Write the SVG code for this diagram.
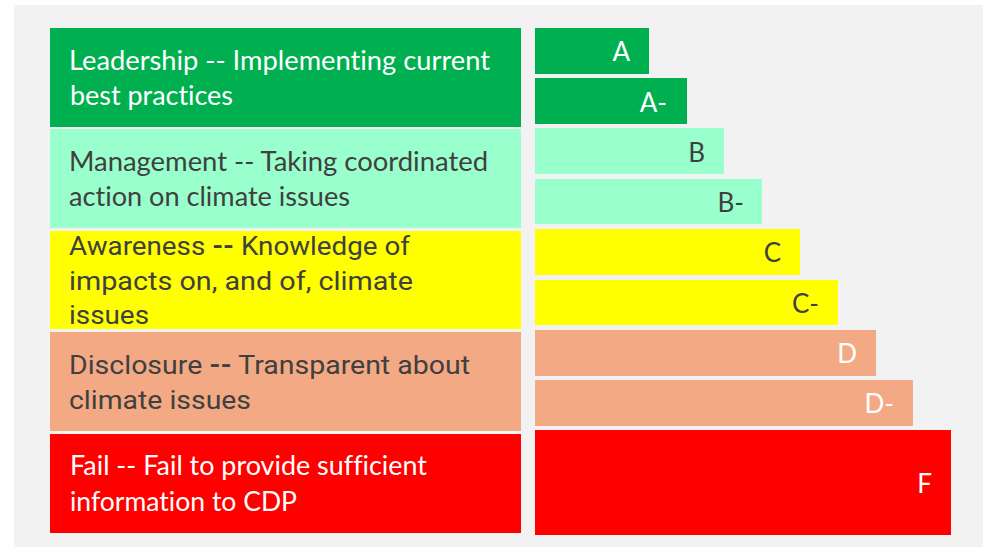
<svg xmlns="http://www.w3.org/2000/svg" width="992" height="547" viewBox="0 0 992 547">
  <style>
    text { font-variant-ligatures: none; }
    .t { font-family: Lato, "Liberation Sans", sans-serif; font-size: 26px; }
    .a { font-family: Roboto, "Liberation Sans", sans-serif; font-size: 25.5px; }
    .w { fill: #FFFFFF; }
    .g { fill: #404040; }
    .lbl { font-family: Lato, "Liberation Sans", sans-serif; font-size: 26px; text-anchor: end; }
    .green { fill: #00B050; }
    .mint { fill: #99FFCC; }
    .yellow { fill: #FFFF00; }
    .salmon { fill: #F3AA84; }
    .red { fill: #FF0000; }
  </style>
  <rect x="0" y="0" width="992" height="547" fill="#FFFFFF"/>
  <rect id="background" x="14" y="5" width="969" height="542" fill="#F2F2F2"/>

  <g id="level-leadership">
    <rect class="green" x="50" y="28" width="471" height="99"/>
    <text class="t w" x="69" y="70" textLength="421" lengthAdjust="spacingAndGlyphs">Leadership -- Implementing current</text>
    <text class="t w" x="70" y="105" textLength="163" lengthAdjust="spacingAndGlyphs">best practices</text>
  </g>
  <g id="level-management">
    <rect class="mint" x="50" y="129" width="471" height="99"/>
    <text class="t g" x="69" y="171" textLength="419" lengthAdjust="spacingAndGlyphs">Management -- Taking coordinated</text>
    <text class="t g" x="69" y="206" textLength="281" lengthAdjust="spacingAndGlyphs">action on climate issues</text>
  </g>
  <g id="level-awareness">
    <rect class="yellow" x="50" y="231" width="471" height="98"/>
    <text class="a g" x="69" y="255" textLength="341" lengthAdjust="spacingAndGlyphs">Awareness <tspan font-weight="bold">--</tspan> Knowledge of</text>
    <text class="a g" x="69" y="290" textLength="344" lengthAdjust="spacingAndGlyphs">impacts on, and of, climate</text>
    <text class="a g" x="69" y="324" textLength="80" lengthAdjust="spacingAndGlyphs">issues</text>
  </g>
  <g id="level-disclosure">
    <rect class="salmon" x="50" y="332" width="471" height="99"/>
    <text class="a g" x="69" y="374" textLength="401" lengthAdjust="spacingAndGlyphs">Disclosure <tspan font-weight="bold">--</tspan> Transparent about</text>
    <text class="a g" x="69" y="409" textLength="182" lengthAdjust="spacingAndGlyphs">climate issues</text>
  </g>
  <g id="level-fail">
    <rect class="red" x="50" y="434" width="471" height="99"/>
    <text class="t w" x="70" y="475" textLength="357" lengthAdjust="spacingAndGlyphs">Fail -- Fail to provide sufficient</text>
    <text class="t w" x="70" y="511" textLength="227" lengthAdjust="spacingAndGlyphs">information to CDP</text>
  </g>

  <g id="grade-A">
    <rect class="green" x="535" y="28" width="114" height="46"/>
    <text class="lbl w" x="630" y="61">A</text>
  </g>
  <g id="grade-A-minus">
    <rect class="green" x="535" y="78" width="152" height="46"/>
    <text class="lbl w" x="667" y="112">A-</text>
  </g>
  <g id="grade-B">
    <rect class="mint" x="535" y="128" width="189" height="46"/>
    <text class="lbl g" x="705" y="162">B</text>
  </g>
  <g id="grade-B-minus">
    <rect class="mint" x="535" y="179" width="227" height="45"/>
    <text class="lbl g" x="744" y="212">B-</text>
  </g>
  <g id="grade-C">
    <rect class="yellow" x="535" y="229" width="265" height="46"/>
    <text class="lbl g" x="781" y="262">C</text>
  </g>
  <g id="grade-C-minus">
    <rect class="yellow" x="535" y="280" width="303" height="45"/>
    <text class="lbl g" x="819" y="313">C-</text>
  </g>
  <g id="grade-D">
    <rect class="salmon" x="535" y="330" width="341" height="46"/>
    <text class="lbl w" x="857" y="363">D</text>
  </g>
  <g id="grade-D-minus">
    <rect class="salmon" x="535" y="380" width="378" height="46"/>
    <text class="lbl w" x="894" y="413">D-</text>
  </g>
  <g id="grade-F">
    <rect class="red" x="535" y="430" width="416" height="105"/>
    <text class="lbl w" x="932" y="493">F</text>
  </g>

  <g id="connectors"/>
</svg>
